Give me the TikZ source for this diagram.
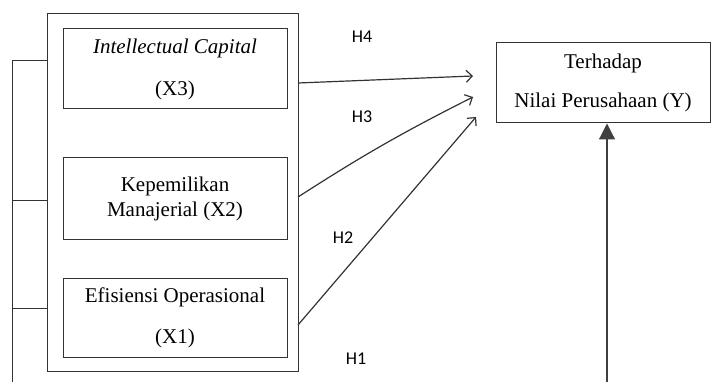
\documentclass[tikz,border=0pt]{standalone}
\usepackage{fontspec}
\setmainfont{Liberation Serif}
\newfontfamily\hfont{Carlito}
\usetikzlibrary{arrows.meta}

\tikzset{
  varbox/.style={draw, line width=1pt, color=black!80, text=black, minimum width=224pt, align=center, inner sep=0pt,
    font=\fontsize{21}{25}\selectfont},
  hlabel/.style={font=\hfont\fontsize{18}{20}\selectfont, inner sep=0pt},
  link/.style={line width=1pt, color=black!80},
  hyparrow/.style={line width=1.2pt, color=black!80, -{Straight Barb[length=6pt,width=12pt]}}
}

\begin{document}
\begin{tikzpicture}[x=1pt, y=-1pt]
  \useasboundingbox (0,0) rectangle (711,382);
  \node[draw, line width=1pt, color=black!80, minimum width=251pt, minimum height=357pt] (outer) at (172.5,192.5) {}; % frame
  \node[varbox, minimum height=80pt] (x3) at (175,69) {\textit{Intellectual Capital}\\[17pt](X3)};
  \node[varbox, minimum height=81pt] (x2) at (175,198.5) {Kepemilikan\\Manajerial (X2)};
  \node[varbox, minimum height=79pt] (x1) at (175,317.5) {Efisiensi Operasional\\[16pt](X1)};
  \node[varbox, minimum width=214pt, minimum height=80pt] (y) at (603,83) {Terhadap\\[14pt]Nilai Perusahaan (Y)};

  % hypothesis arrows
  \coordinate (h4s) at (298,83);  \coordinate (h4e) at (473,76);
  \coordinate (h3s) at (298,197); \coordinate (h3e) at (473,97);
  \coordinate (h2s) at (298,325); \coordinate (h2e) at (476,117);
  \draw[hyparrow] (h4s) -- (h4e);
  \draw[hyparrow] (h3s) to[bend left=3] (h3e);
  \draw[hyparrow] (h2s) -- (h2e);
  \node[hlabel] (h4) at (362,37) {H4};
  \node[hlabel] (h3) at (362,117) {H3};
  \node[hlabel] (h2) at (343,238) {H2};
  \node[hlabel] (h1) at (356,359) {H1};

  % bracket on the left
  \coordinate (b3) at (12,61); \coordinate (b2) at (12,200); \coordinate (b1) at (12,308);
  \coordinate (bend) at (12,382);
  \draw[link] (b3) -- (bend);
  \draw[link] (b3) -- (b3 -| outer.west);
  \draw[link] (b2) -- (b2 -| outer.west);
  \draw[link] (b1) -- (b1 -| outer.west);

  % H1 arrow into Y
  \coordinate (h1s) at (607,382);
  \draw[line width=1.2pt, color=black!75, -{Triangle[length=16pt,width=16pt]}] (h1s) -- (h1s |- y.south);
\end{tikzpicture}
\end{document}
